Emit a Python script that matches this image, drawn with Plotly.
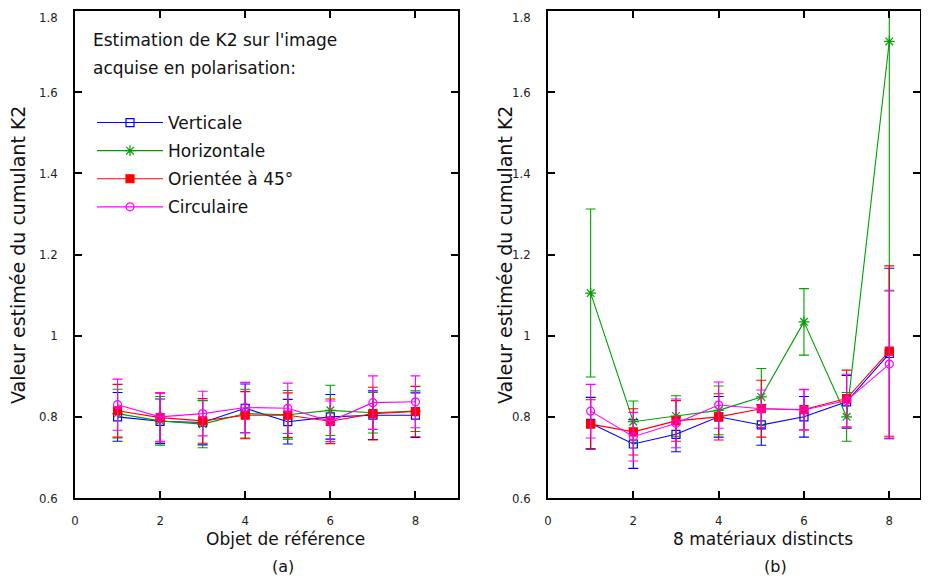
import plotly.graph_objects as go

x = [1, 2, 3, 4, 5, 6, 7, 8]
series_names = ["Verticale", "Horizontale", "Orientée à 45°", "Circulaire"]

# Panel (a): Objet de référence
a_vert = [0.800, 0.789, 0.786, 0.821, 0.788, 0.800, 0.804, 0.804]
a_vert_err = [0.060, 0.055, 0.055, 0.060, 0.055, 0.055, 0.060, 0.055]
a_horiz = [0.808, 0.790, 0.782, 0.808, 0.805, 0.816, 0.810, 0.814]
a_horiz_err = [0.060, 0.060, 0.058, 0.060, 0.060, 0.062, 0.050, 0.050]
a_45 = [0.815, 0.798, 0.790, 0.804, 0.804, 0.789, 0.808, 0.813]
a_45_err = [0.065, 0.060, 0.055, 0.058, 0.055, 0.055, 0.065, 0.062]
a_circ = [0.830, 0.800, 0.808, 0.823, 0.821, 0.789, 0.835, 0.837]
a_circ_err = [0.063, 0.060, 0.055, 0.062, 0.062, 0.050, 0.066, 0.064]

# Panel (b): 8 matériaux distincts
b_vert = [0.784, 0.733, 0.757, 0.800, 0.780, 0.800, 0.837, 0.956]
b_vert_err = [0.064, 0.060, 0.043, 0.050, 0.050, 0.050, 0.065, 0.210]
b_horiz = [1.105, 0.788, 0.802, 0.816, 0.849, 1.034, 0.800, 1.725]
b_horiz_err = [0.207, 0.051, 0.050, 0.060, 0.070, 0.082, 0.060, 0.615]
b_45 = [0.782, 0.763, 0.790, 0.800, 0.820, 0.818, 0.845, 0.962]
b_45_err = [0.060, 0.057, 0.050, 0.057, 0.070, 0.050, 0.070, 0.210]
b_circ = [0.814, 0.751, 0.784, 0.829, 0.820, 0.817, 0.840, 0.930]
b_circ_err = [0.066, 0.060, 0.060, 0.057, 0.046, 0.050, 0.065, 0.182]

y_ticks = [0.6, 0.8, 1.0, 1.2, 1.4, 1.6, 1.8]
y_ticktext = ["0.6", "0.8", "1", "1.2", "1.4", "1.6", "1.8"]
x_ticks = [0, 2, 4, 6, 8]

colors = ["#0000ff", "#00a000", "#ff0000", "#ff00ff"]
symbols = ["square-open", "asterisk-open", "square", "circle-open"]

FONT = "DejaVu Sans"
TICKFONT = "DejaVu Sans Condensed, DejaVu Sans"
W, H = 929, 581
OFF = 8  # page body margin


def px(p):
    return (p - OFF) / W


def py(p):
    return 1 - (p - OFF) / H


fig = go.Figure()

panels = [
    ("x", "y", [(a_vert, a_vert_err), (a_horiz, a_horiz_err), (a_45, a_45_err), (a_circ, a_circ_err)], True),
    ("x2", "y2", [(b_vert, b_vert_err), (b_horiz, b_horiz_err), (b_45, b_45_err), (b_circ, b_circ_err)], False),
]
for xa, ya, data, show in panels:
    for i, (vals, errs) in enumerate(data):
        fig.add_trace(go.Scatter(
            x=x, y=vals, xaxis=xa, yaxis=ya,
            mode="lines+markers", name=series_names[i], showlegend=show,
            legendgroup=series_names[i],
            line=dict(color=colors[i], width=1.1),
            marker=dict(symbol=symbols[i], size=8 if i != 1 else 9, color=colors[i],
                        line=dict(color=colors[i], width=1.2)),
            error_y=dict(type="data", array=errs, visible=True, color=colors[i],
                         thickness=1.1, width=5),
            cliponaxis=True,
        ))

axis_common = dict(
    showline=True, linecolor="black", linewidth=1.5, mirror="ticks",
    ticks="inside", ticklen=7, tickwidth=1.5, tickcolor="black",
    showgrid=False, zeroline=False, automargin=False, ticklabeloverflow="allow",
    tickfont=dict(family=TICKFONT, size=13, color="#222"),
)

# the top tick label sits at the very edge of the page; draw it as an annotation instead
axis_ticktext = y_ticktext[:-1] + [""]

fig.update_layout(
    width=W, height=H,
    margin=dict(l=0, r=0, t=0, b=0),
    paper_bgcolor="white", plot_bgcolor="white",
    font=dict(family=FONT, color="#111"),
    xaxis=dict(domain=[px(75), px(458)], range=[0, 9], tickvals=x_ticks, anchor="y",
               ticklabelstandoff=10, **axis_common),
    yaxis=dict(domain=[py(498), py(11)], range=[0.6, 1.8], tickvals=y_ticks, ticktext=axis_ticktext,
               anchor="x", ticklabelstandoff=13, **axis_common),
    xaxis2=dict(domain=[px(548), px(920)], range=[0, 8.72], tickvals=x_ticks, anchor="y2",
                ticklabelstandoff=10, **axis_common),
    yaxis2=dict(domain=[py(498), py(11)], range=[0.6, 1.8], tickvals=y_ticks, ticktext=axis_ticktext,
                anchor="x2", ticklabelstandoff=13, **axis_common),
    legend=dict(x=px(92), y=py(105), xanchor="left", yanchor="top",
                bgcolor="rgba(0,0,0,0)", font=dict(family=FONT, size=17, color="#111"),
                itemwidth=66, tracegroupgap=3),
    showlegend=True,
)

texts = [
    ("Estimation de K2 sur l'image", 91, 40, "left", 17, 0),
    ("acquise en polarisation:", 91, 68, "left", 17, 0),
    ("Objet de référence", 285, 539, "center", 17, 0),
    ("8 matériaux distincts", 763, 539, "center", 17, 0),
    ("(a)", 283, 566, "center", 16, 0),
    ("(b)", 775, 566, "center", 16, 0),
    ("Valeur estimée du cumulant K2", 18, 255, "center", 19, -90),
    ("Valeur estimée du cumulant K2", 505, 255, "center", 19, -90),
]
for t, tx, ty, anc, sz, ang in texts:
    fig.add_annotation(xref="paper", yref="paper", x=px(tx), y=py(ty), xanchor=anc, yanchor="middle",
                       text=t, showarrow=False, textangle=ang, align="left",
                       font=dict(family=FONT, size=sz, color="#111"))

for ax_left in (75, 548):
    fig.add_annotation(xref="paper", yref="paper", x=px(ax_left - 16), y=py(8.5),
                       xanchor="right", yanchor="top", text=y_ticktext[-1], showarrow=False,
                       borderpad=0, font=dict(family=TICKFONT, size=13, color="#222"))

fig.write_html("out.html")
